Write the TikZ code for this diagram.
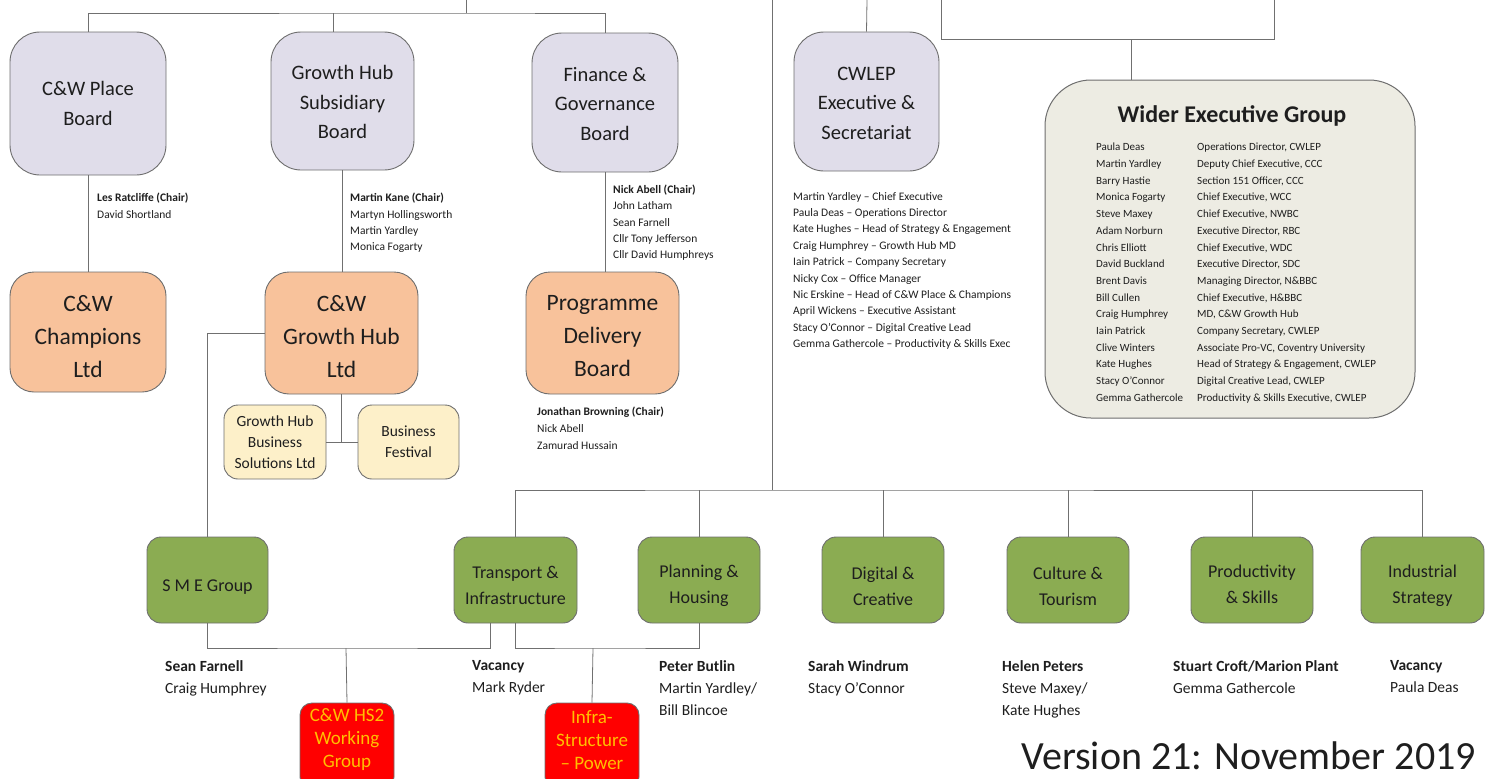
\documentclass[tikz,border=0pt]{standalone}
\usepackage{fontspec}
\setmainfont{Carlito}
\usetikzlibrary{calc}
\definecolor{lavfill}{HTML}{E0DDEA}
\definecolor{orfill}{HTML}{F8C29B}
\definecolor{yefill}{HTML}{FDF0C9}
\definecolor{grfill}{HTML}{8BAC52}
\definecolor{wegfill}{HTML}{EDECE3}
\definecolor{bord}{HTML}{6E6E6E}
\definecolor{txt}{HTML}{1E1E1E}
\definecolor{redtxt}{HTML}{FFC000}
\definecolor{lin}{HTML}{707070}
\newcommand\sdn[1]{\rule{0pt}{\dimexpr0.72em+#1\relax}}
\newcommand\raiseup[1]{\rule[-#1]{0pt}{0pt}}
\tikzset{
  every node/.style={inner sep=0pt, text=txt},
  bx/.style={draw=bord, line width=0.9pt, align=center},
  lav/.style={bx, fill=lavfill, rounded corners=30pt, font=\fontsize{20.5}{29.5}\selectfont},
  orng/.style={bx, fill=orfill, rounded corners=24pt, font=\fontsize{23.5}{33}\selectfont},
  ylw/.style={bx, fill=yefill, rounded corners=14pt, font=\fontsize{15.5}{21}\selectfont},
  grn/.style={bx, fill=grfill, rounded corners=14pt, font=\fontsize{18}{26}\selectfont},
  redb/.style={bx, fill=red, rounded corners=12pt, text=redtxt, font=\fontsize{19}{23}\selectfont},
  wegb/.style={draw=bord, line width=1pt, fill=wegfill, rounded corners=46pt},
  lst/.style={anchor=north west, align=left, font=\fontsize{11.5}{16.4}\selectfont},
  lab/.style={anchor=north west, align=left, font=\fontsize{15.5}{22}\selectfont},
  cn/.style={draw=lin, line width=0.8pt}
}
\begin{document}
\begin{tikzpicture}[x=1pt,y=-1pt]
\useasboundingbox (0,0) rectangle (1486,779);
% top row boards
\node[lav, minimum width=156pt, minimum height=143pt] (place) at (88,103.5) {C\&W Place\\Board};
\node[lav, minimum width=143pt, minimum height=138pt] (ghsb) at (342.5,101) {\sdn{2pt}Growth Hub\\Subsidiary\\Board};
\node[lav, minimum width=146pt, minimum height=139pt] (fgb) at (605,102.5) {\sdn{2pt}Finance \&\\Governance\\Board};
\node[lav, minimum width=145pt, minimum height=139pt] (cw) at (866.5,101.5) {\sdn{2pt}CWLEP\\Executive \&\\Secretariat};
% companies
\node[orng, minimum width=156pt, minimum height=120pt] (champ) at (88,332) {\sdn{8pt}C\&W\\Champions\\Ltd};
\node[orng, minimum width=153pt, minimum height=122pt] (ghl) at (341.5,333) {\sdn{7pt}C\&W\\Growth Hub\\Ltd};
\node[orng, minimum width=153pt, minimum height=122pt] (pdb) at (602.5,333) {\sdn{5pt}Programme\\Delivery\\Board};
\node[ylw, minimum width=102pt, minimum height=74pt] (ghbs) at (275,442) {Growth Hub\\Business\\Solutions Ltd};
\node[ylw, minimum width=101pt, minimum height=74pt] (bf) at (408.5,442) {Business\\Festival};
% groups
\node[grn, minimum width=121pt, minimum height=86pt] (sme) at (207.5,580) {\sdn{12pt}S M E Group};
\node[grn, minimum width=123pt, minimum height=86pt] (ti) at (515.5,580) {\sdn{11pt}Transport \&\\Infrastructure};
\node[grn, minimum width=122pt, minimum height=86pt] (ph) at (699,580) {\sdn{11pt}Planning \&\\Housing};
\node[grn, minimum width=122pt, minimum height=86pt] (dc) at (883,580) {\sdn{12pt}Digital \&\\Creative};
\node[grn, minimum width=122pt, minimum height=86pt] (ct) at (1068,580) {\sdn{12pt}Culture \&\\Tourism};
\node[grn, minimum width=122pt, minimum height=86pt] (ps) at (1252,580) {\sdn{9pt}Productivity\\\& Skills};
\node[grn, minimum width=123pt, minimum height=86pt] (is) at (1422.5,580) {\sdn{11pt}Industrial\\Strategy};
\node[redb, minimum width=94pt, minimum height=86pt] (hs2) at (347,746) {C\&W HS2\\Working\\Group\raiseup{15pt}};
\node[redb, minimum width=94pt, minimum height=86pt] (infra) at (592,746) {Infra-\\Structure\\– Power\raiseup{13pt}};
% wider executive group
\node[wegb, minimum width=370pt, minimum height=338pt] (weg) at (1230,249) {};
\node[font=\bfseries\fontsize{24}{28}\selectfont] (wegt) at (1232,116) {Wider Executive Group};
\node[lst, font=\fontsize{11}{16.7}\selectfont] (wegn) at (1096,143) {Paula Deas\\Martin Yardley\\Barry Hastie\\Monica Fogarty\\Steve Maxey\\Adam Norburn\\Chris Elliott\\David Buckland\\Brent Davis\\Bill Cullen\\Craig Humphrey\\Iain Patrick\\Clive Winters\\Kate Hughes\\Stacy O’Connor\\Gemma Gathercole};
\node[lst, font=\fontsize{11}{16.7}\selectfont] (wegr) at (1197,143) {Operations Director, CWLEP\\Deputy Chief Executive, CCC\\Section 151 Officer, CCC\\Chief Executive, WCC\\Chief Executive, NWBC\\Executive Director, RBC\\Chief Executive, WDC\\Executive Director, SDC\\Managing Director, N\&BBC\\Chief Executive, H\&BBC\\MD, C\&W Growth Hub\\Company Secretary, CWLEP\\Associate Pro-VC, Coventry University\\Head of Strategy \& Engagement, CWLEP\\Digital Creative Lead, CWLEP\\Productivity \& Skills Executive, CWLEP};
% member lists
\node[lst] (l1) at (97,193) {\textbf{Les Ratcliffe (Chair)}\\David Shortland};
\node[lst] (l2) at (350,193) {\textbf{Martin Kane (Chair)}\\Martyn Hollingsworth\\Martin Yardley\\Monica Fogarty};
\node[lst] (l3) at (613,184.5) {\textbf{Nick Abell (Chair)}\\John Latham\\Sean Farnell\\Cllr Tony Jefferson\\Cllr David Humphreys};
\node[lst, font=\fontsize{11.5}{17}\selectfont] (l4) at (537,406.5) {\textbf{Jonathan Browning (Chair)}\\Nick Abell\\Zamurad Hussain};
\node[lst] (l5) at (793,192) {Martin Yardley – Chief Executive\\Paula Deas – Operations Director\\Kate Hughes – Head of Strategy \& Engagement\\Craig Humphrey – Growth Hub MD\\Iain Patrick – Company Secretary\\Nicky Cox – Office Manager\\Nic Erskine – Head of C\&W Place \& Champions\\April Wickens – Executive Assistant\\Stacy O’Connor – Digital Creative Lead\\Gemma Gathercole – Productivity \& Skills Exec};
\node[lab] (b1) at (165,660) {\textbf{Sean Farnell}\\Craig Humphrey};
\node[lab] (b2) at (472,660) {\textbf{Vacancy}\\Mark Ryder};
\node[lab] (b3) at (659,660) {\textbf{Peter Butlin}\\Martin Yardley/\\Bill Blincoe};
\node[lab] (b4) at (808,660) {\textbf{Sarah Windrum}\\Stacy O’Connor};
\node[lab] (b5) at (1002,660) {\textbf{Helen Peters}\\Steve Maxey/\\Kate Hughes};
\node[lab] (b6) at (1173,660) {\textbf{Stuart Croft/Marion Plant}\\Gemma Gathercole};
\node[lab] (b7) at (1390,660) {\textbf{Vacancy}\\Paula Deas};
\node[anchor=base east, font=\fontsize{40}{44}\selectfont] (ver) at (1476,769) {Version 21: November 2019};
% connectors
\coordinate (top1) at (466,0);
\coordinate (bar1) at (466,13);
\draw[cn] (top1) -- (bar1);
\draw[cn] (place.north) |- (bar1) -| (fgb.north);
\draw[cn] ($(ghsb.north)+(-9,0)$) -- ($(ghsb.north |- bar1)+(-9,0)$);
\draw[cn] (place.south) -- (champ.north);
\draw[cn] (ghsb.south) -- (ghsb.south |- ghl.north);
\draw[cn] (fgb.south) -- (fgb.south |- pdb.north);
\draw[cn] (ghl.west) -| (sme.north);
\draw[cn] (ghl.south) -- (ghl.south |- ghbs.east);
\draw[cn] (ghbs.east) -- (bf.west);
\coordinate (top2) at (772,0);
\coordinate (bar2) at (772,490);
\draw[cn] (top2) -- (bar2);
\draw[cn] (ti.north) |- (bar2) -| (is.north);
\draw[cn] (ph.north) -- (ph.north |- bar2);
\draw[cn] (dc.north) -- (dc.north |- bar2);
\draw[cn] (ct.north) -- (ct.north |- bar2);
\draw[cn] (ps.north) -- (ps.north |- bar2);
\coordinate (top3) at (867,0);
\draw[cn] (top3) -- (cw.north);
\coordinate (rtl) at (941,0);
\coordinate (rbl) at (941,39);
\coordinate (rbr) at (1274,39);
\coordinate (rtr) at (1274,0);
\coordinate (rbm) at (1131,39);
\draw[cn] (rtl) -- (rbl) -- (rbr) -- (rtr);
\draw[cn] (rbm) -- (rbm |- weg.north);
\coordinate (j1) at (346,648);
\coordinate (j2) at (593,648);
\draw[cn] (sme.south) |- (j1) -| ($(ti.south)+(-25,0)$);
\draw[cn] (j1) -- (hs2.north);
\draw[cn] (ti.south) |- (j2) -| (ph.south);
\draw[cn] (j2) -- (infra.north);
\end{tikzpicture}
\end{document}
